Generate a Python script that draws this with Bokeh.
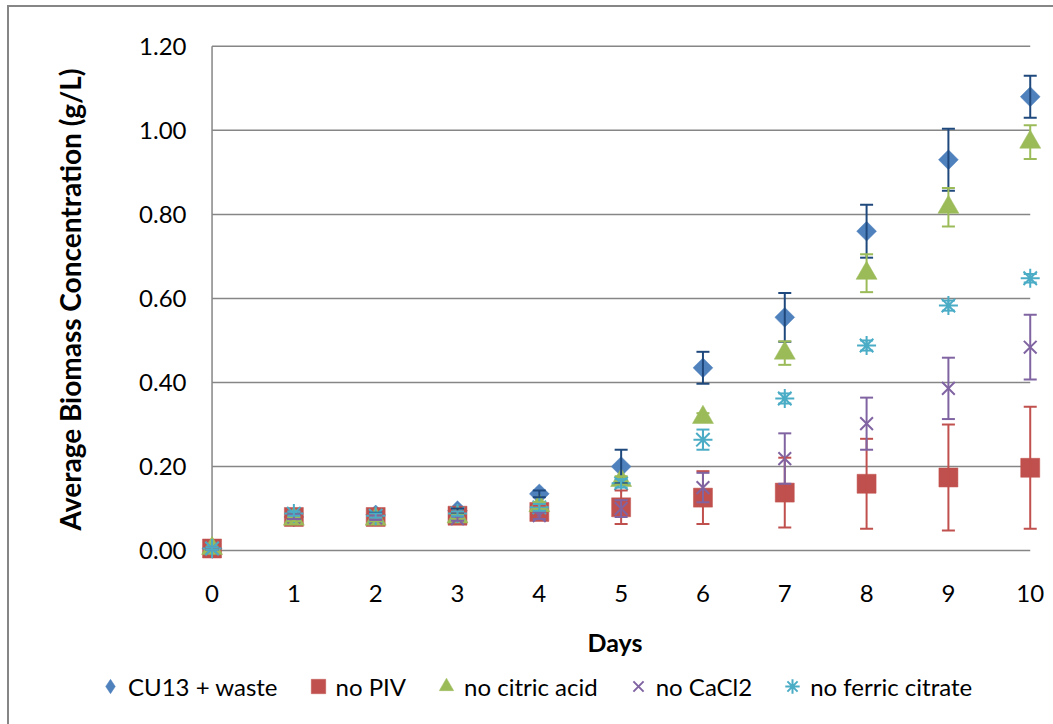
from bokeh.plotting import figure
from bokeh.layouts import column, row
from bokeh.models import (ColumnDataSource, Range1d, FixedTicker, NumeralTickFormatter,
                          Whisker, TeeHead, Legend, LegendItem, InlineStyleSheet)
from bokeh.embed import file_html
from bokeh.resources import INLINE
import numpy as np

# ---------------- data ----------------
DAYS = [0, 1, 2, 3, 4, 5, 6, 7, 8, 9, 10]
Y_TICKS = [0.0, 0.2, 0.4, 0.6, 0.8, 1.0, 1.2]

cu13 = [0.005, 0.080, 0.085, 0.095, 0.135, 0.200, 0.435, 0.555, 0.760, 0.930, 1.080]
cu13_err = [0.003, 0.005, 0.005, 0.005, 0.008, 0.040, 0.038, 0.058, 0.063, 0.074, 0.050]

no_piv = [0.005, 0.080, 0.080, 0.083, 0.092, 0.103, 0.126, 0.138, 0.159, 0.174, 0.197]
no_piv_err = [0.003, 0.005, 0.005, 0.010, 0.015, 0.040, 0.063, 0.083, 0.107, 0.126, 0.145]

no_citric = [0.005, 0.075, 0.075, 0.080, 0.107, 0.167, 0.317, 0.470, 0.660, 0.817, 0.972]
no_citric_err = [0.003, 0.005, 0.005, 0.005, 0.008, 0.010, 0.010, 0.028, 0.045, 0.046, 0.040]

no_cacl2 = [0.005, 0.080, 0.078, 0.076, 0.083, 0.100, 0.150, 0.219, 0.302, 0.386, 0.484]
no_cacl2_err = [0.003, 0.005, 0.005, 0.005, 0.008, 0.020, 0.035, 0.060, 0.062, 0.073, 0.077]

no_ferric = [0.005, 0.088, 0.083, 0.088, 0.103, 0.160, 0.264, 0.362, 0.488, 0.583, 0.648]
no_ferric_err = [0.003, 0.005, 0.005, 0.005, 0.008, 0.010, 0.024, 0.012, 0.012, 0.012, 0.010]

SERIES = [
    ("CU13 + waste", cu13, cu13_err),
    ("no PIV", no_piv, no_piv_err),
    ("no citric acid", no_citric, no_citric_err),
    ("no CaCl2", no_cacl2, no_cacl2_err),
    ("no ferric citrate", no_ferric, no_ferric_err),
]

# ---------------- styles ----------------
FONT = "Lato"
GRID = "#868686"
STYLES = [
    dict(marker="square", legend_marker="diamond", size=14, angle=np.pi / 4,
         color="#4F81BD", err="#1F497D", lw=0),
    dict(marker="square", legend_marker="square", size=19, angle=0,
         color="#C0504D", err="#C0504D", lw=0),
    dict(marker="triangle", legend_marker="triangle", size=21, angle=0,
         color="#9BBB59", err="#9BBB59", lw=0),
    dict(marker="x", legend_marker="x", size=18, angle=0,
         color="#8064A2", err="#8064A2", lw=2),
    dict(marker="asterisk", legend_marker="asterisk", size=19, angle=0,
         color="#4BACC6", err="#4BACC6", lw=2),
]

MAIN_H = 664
LEG_H = 724 - MAIN_H


def border_css(top):
    top_rule = "border-top: 2px solid #868686; " if top else ""
    t = "5px" if top else "0px"
    return InlineStyleSheet(css=(
        ":host::after { content: ''; position: absolute; left: 7px; top: %s; "
        "width: 1100px; height: 800px; %sborder-left: 2px solid #868686; "
        "pointer-events: none; box-sizing: border-box; }"
        ":host { position: relative; overflow: hidden; }" % (t, top_rule)))


p = figure(width=1053, height=MAIN_H, output_backend="svg", toolbar_location=None,
           x_range=Range1d(-0.3, 10.15), y_range=Range1d(-0.045, 1.24),
           min_border_left=187, min_border_right=11, min_border_top=29,
           min_border_bottom=MAIN_H - 569)
p.outline_line_color = None
p.xgrid.visible = False
p.ygrid.visible = False
p.background_fill_color = "white"
p.border_fill_color = "white"
p.stylesheets = [border_css(True)]

# gridlines and y axis line
p.segment(x0=[DAYS[0]] * len(Y_TICKS), y0=Y_TICKS, x1=[DAYS[-1]] * len(Y_TICKS), y1=Y_TICKS,
          line_color=GRID, line_width=1.5, level="underlay")
p.segment(x0=[DAYS[0]], y0=[Y_TICKS[0]], x1=[DAYS[0]], y1=[Y_TICKS[-1]],
          line_color=GRID, line_width=1.5, level="underlay")

# axes
for ax in (p.xaxis[0], p.yaxis[0]):
    ax.axis_line_color = None
    ax.major_tick_line_color = None
    ax.minor_tick_line_color = None
    ax.major_tick_out = 0
    ax.major_tick_in = 0
    ax.minor_tick_out = 0
    ax.minor_tick_in = 0
    ax.major_label_text_font = FONT
    ax.major_label_text_font_size = "24px"
    ax.major_label_text_color = "black"
    ax.axis_label_text_font = FONT
    ax.axis_label_text_font_style = "bold"
    ax.axis_label_text_color = "black"

p.xaxis.ticker = FixedTicker(ticks=DAYS)
p.xaxis.major_label_standoff = 15
p.xaxis.axis_label = "Days"
p.xaxis.axis_label_text_font_size = "25px"
p.xaxis.axis_label_standoff = 22

p.yaxis.ticker = FixedTicker(ticks=Y_TICKS)
p.yaxis.formatter = NumeralTickFormatter(format="0.00")
p.yaxis.major_label_standoff = 1
p.yaxis.axis_label = "Average Biomass Concentration (g/L)"
p.yaxis.axis_label_text_font_size = "28px"
p.yaxis.axis_label_standoff = 49

# legend strip below the chart (its own small figure)
pl = figure(width=1053, height=LEG_H, output_backend="svg", toolbar_location=None,
            x_range=Range1d(0, 1), y_range=Range1d(0, 1),
            min_border_left=0, min_border_right=0, min_border_top=0, min_border_bottom=0)
pl.axis.visible = False
pl.grid.visible = False
pl.outline_line_color = None
pl.background_fill_color = "white"
pl.border_fill_color = "white"
pl.stylesheets = [border_css(False)]

items = []
for (name, vals, errs), st in zip(SERIES, STYLES):
    v = np.array(vals)
    e = np.array(errs)
    src = ColumnDataSource(dict(x=DAYS, y=vals, lo=list(v - e), hi=list(v + e)))
    w = Whisker(base="x", upper="hi", lower="lo", source=src, dimension="height",
                line_color=st["err"], line_width=2, level="glyph",
                upper_head=TeeHead(size=13, line_color=st["err"], line_width=2),
                lower_head=TeeHead(size=13, line_color=st["err"], line_width=2))
    p.add_layout(w)
    if st["lw"]:
        vis = dict(line_color=st["color"], line_width=st["lw"], fill_color=None)
    else:
        vis = dict(fill_color=st["color"], line_color=st["color"], line_width=0.5)
    p.scatter("x", "y", source=src, marker=st["marker"], size=st["size"], angle=st["angle"], **vis)
    # legend key: same colours, its point kept outside the strip's visible range
    lr = pl.scatter(x=[-5], y=[-5], marker=st["legend_marker"], size=st["size"], **vis)
    items.append(LegendItem(label=name, renderers=[lr]))

legend = Legend(items=items, orientation="horizontal", location=(92, 20),
                glyph_width=36, glyph_height=36, label_height=24, label_standoff=0,
                spacing=22, padding=0, margin=0, border_line_color=None,
                background_fill_alpha=0,
                label_text_font=FONT, label_text_font_size="24px", label_text_color="black")
pl.add_layout(legend, "center")

layout = column(p, row(pl), spacing=0)
open("out.html", "w").write(file_html(layout, INLINE))
